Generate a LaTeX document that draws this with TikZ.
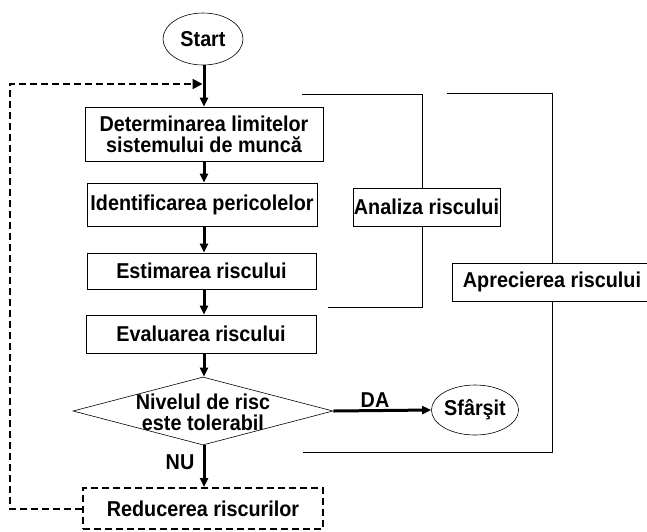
\documentclass[tikz,border=0pt]{standalone}
\usepackage{fontspec}
\setmainfont[FakeStretch=0.92]{Liberation Sans}
\usetikzlibrary{arrows.meta,shapes.geometric}
\begin{document}
\begin{tikzpicture}[x=1pt,y=-1pt,
  every node/.style={font=\fontsize{21.5}{21}\selectfont\bfseries, inner sep=0pt, align=center},
  procbox/.style={draw, line width=0.8pt, rectangle},
  oval/.style={draw, line width=0.6pt, ellipse},
  decbox/.style={draw, line width=0.6pt, diamond, aspect=3.8},
  flow/.style={line width=3pt, -{Triangle[length=9pt,width=8pt]}},
  loop/.style={line width=2pt, dash pattern=on 7pt off 4pt, -{Triangle[length=10pt,width=10pt]}},
  brace/.style={line width=0.8pt},
  lbl/.style={font=\fontsize{21.5}{21}\selectfont\bfseries}
]
\useasboundingbox (0,0) rectangle (647,531);
\clip (0,0) rectangle (647,531);

\node[oval, minimum width=80pt, minimum height=52pt] (start) at (203,39) {Start};
\node[procbox, minimum width=238pt, minimum height=54pt] (b1) at (204,134) {Determinarea limitelor\\sistemului de muncă};
\node[procbox, minimum width=230pt, minimum height=43pt] (b2) at (202,204.5) {Identificarea pericolelor};
\node[procbox, minimum width=229pt, minimum height=36pt] (b3) at (201.5,271) {Estimarea riscului};
\node[procbox, minimum width=230pt, minimum height=38pt] (b4) at (201,334) {Evaluarea riscului};
\node[decbox, minimum width=260pt, minimum height=68pt] (dec) at (203,411) {};
\node at (203,412) {Nivelul de risc\\este tolerabil};
\node[oval, minimum width=80pt, minimum height=50pt] (end) at (475,410) {Sfârşit};
\node[procbox, line width=2pt, dash pattern=on 7pt off 4pt, minimum width=240pt, minimum height=41pt] (red) at (203,508.5) {Reducerea riscurilor};

% brackets
\coordinate (a1) at (302,94);
\coordinate (a2) at (422,94);
\coordinate (a3) at (422,307);
\coordinate (a4) at (328,307);
\draw[brace] (a1) -- (a2) -- (a3) -- (a4);
\node[procbox, fill=white, minimum width=147pt, minimum height=38pt] (an) at (426.5,207) {Analiza riscului};

\coordinate (p1) at (447,93);
\coordinate (p2) at (552,93);
\coordinate (p3) at (552,452);
\coordinate (p4) at (303,452);
\draw[brace] (p1) -- (p2) -- (p3) -- (p4);
\node[procbox, fill=white, minimum width=200pt, minimum height=38pt] (ap) at (552,282) {Aprecierea riscului};

% flow
\coordinate (j) at (204,84);
\draw[flow] (start.south -| j) -- (b1.north -| j);
\draw[flow] (b1.south -| j) -- (b2.north -| j);
\draw[flow] (b2.south -| j) -- (b3.north -| j);
\draw[flow] (b3.south -| j) -- (b4.north -| j);
\draw[flow] (b4.south -| j) -- (dec.north -| j);
\draw[flow] (dec.south -| j) -- (red.north -| j);
\draw[flow] (dec.east) -- (end.west);
\node[lbl] at (375,400) {DA};
\node[lbl] at (180,462) {NU};

% loop
\coordinate (l1) at (10,509);
\coordinate (l2) at (10,84);
\draw[loop] (red.west |- l1) -- (l1) -- (l2) -- ([xshift=-1.5pt]j);
\end{tikzpicture}
\end{document}
